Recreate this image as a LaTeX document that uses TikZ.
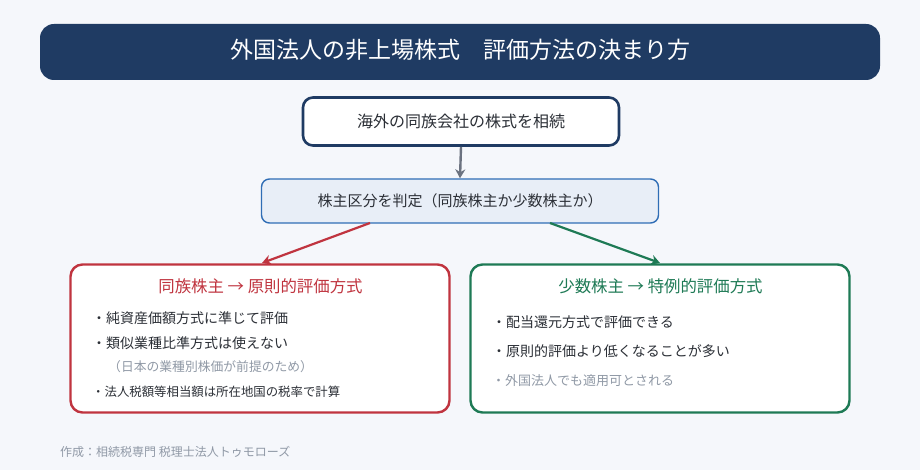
\documentclass[tikz,border=0pt]{standalone}
\usepackage{fontspec}
\setmainfont{Noto Sans CJK JP}
\usetikzlibrary{arrows.meta}
\definecolor{bgc}{HTML}{F5F7FB}
\definecolor{navy}{HTML}{1F3B63}
\definecolor{bluebd}{HTML}{2F6DB5}
\definecolor{bluefill}{HTML}{E8EEF7}
\definecolor{redc}{HTML}{C0343F}
\definecolor{greenc}{HTML}{1E7A55}
\definecolor{txt}{HTML}{2B2F36}
\definecolor{grayt}{HTML}{9099A6}
\definecolor{arrowgray}{HTML}{6B7280}
\tikzset{
  box/.style={draw, rounded corners=#1, inner sep=0pt},
  bullet/.style={anchor=west, inner sep=0pt, text=txt, font=\fontsize{14}{16}\selectfont},
  conn/.style={line width=2.2pt, -{Stealth[length=9pt,width=10pt]}},
}
\begin{document}
\begin{tikzpicture}[x=1pt,y=-1pt]
\fill[bgc] (0,0) rectangle (920,470);
\useasboundingbox (0,0) rectangle (920,470);
% title
\node[fill=navy, rounded corners=14pt, minimum width=840pt, minimum height=56pt, inner sep=0pt] (title) at (460,52) {};
\node[text=white, font=\fontsize{23}{27}\selectfont] (titletext) at (460,50) {外国法人の非上場株式　評価方法の決まり方};
% box1
\node[box=10pt, draw=navy, line width=2.6pt, fill=white, minimum width=316pt, minimum height=48pt, text=txt, font=\fontsize{16}{19}\selectfont] (b1) at (461,121.5) {海外の同族会社の株式を相続};
% box2
\node[box=8pt, draw=bluebd, line width=1.4pt, fill=bluefill, minimum width=397pt, minimum height=44pt, text=txt, font=\fontsize{15}{18}\selectfont] (b2) at (460,201) {株主区分を判定（同族株主か少数株主か）};
% left box
\node[box=12pt, draw=redc, line width=2.4pt, fill=white, minimum width=379pt, minimum height=148pt] (lb) at (260,338.5) {};
% right box
\node[box=12pt, draw=greenc, line width=2.4pt, fill=white, minimum width=379pt, minimum height=148pt] (rb) at (660,338.5) {};
% arrows
\draw[arrowgray, line width=2.4pt, -{Stealth[length=9pt,width=10pt]}] (b1.south) -- (b2.north);
\coordinate (lstart) at (370,223);
\coordinate (rstart) at (550,223);
\coordinate (lend) at (262,263);
\coordinate (rend) at (660,263);
\draw[conn, redc] (lstart) -- (lend);
\draw[conn, greenc] (rstart) -- (rend);
% left contents
\node[text=redc, font=\fontsize{16.4}{19}\selectfont] (lt) at (260.5,286.5) {同族株主 → 原則的評価方式};
\node[bullet] (l1) at (92,318) {・純資産価額方式に準じて評価};
\node[bullet, text=grayt, font=\fontsize{12.8}{15}\selectfont] (l3) at (108,367) {（日本の業種別株価が前提のため）};
\node[bullet] (l2) at (92,343) {・類似業種比準方式は使えない};
\node[bullet, font=\fontsize{12.4}{14}\selectfont] (l4) at (92,392) {・法人税額等相当額は所在地国の税率で計算};
% right contents
\node[text=greenc, font=\fontsize{16.4}{19}\selectfont] (rt) at (660.5,286.5) {少数株主 → 特例的評価方式};
\node[bullet] (r1) at (492,322) {・配当還元方式で評価できる};
\node[bullet] (r2) at (492,351) {・原則的評価より低くなることが多い};
\node[bullet, text=grayt, font=\fontsize{13}{15}\selectfont] (r3) at (492,381) {・外国法人でも適用可とされる};
% footer
\node[anchor=west, inner sep=0pt, text=grayt, font=\fontsize{12}{14}\selectfont] (foot) at (60,452) {作成：相続税専門 税理士法人トゥモローズ};
\end{tikzpicture}
\end{document}
